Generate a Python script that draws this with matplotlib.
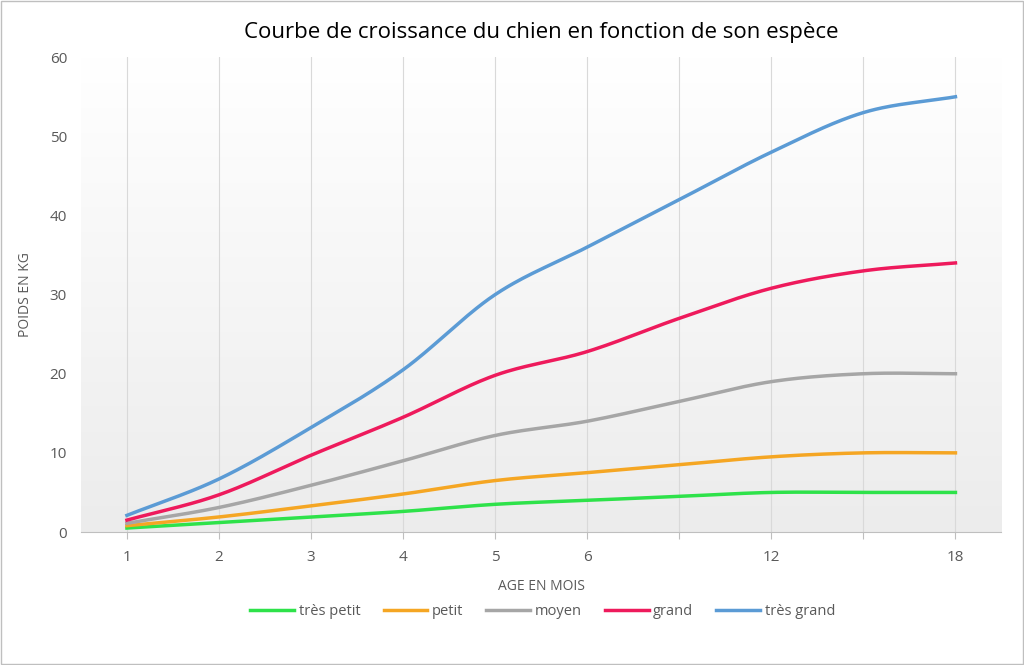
import numpy as np
import matplotlib
matplotlib.use('Agg')
import matplotlib.pyplot as plt

plt.rcParams['font.family'] = ['Open Sans', 'DejaVu Sans']

ages = ['1', '2', '3', '4', '5', '6', '', '12', '', '18']
tres_petit = [0.5, 1.2, 1.9, 2.6, 3.5, 4.0, 4.5, 5.0, 5.0, 5.0]
petit = [0.8, 1.9, 3.3, 4.8, 6.5, 7.5, 8.5, 9.5, 10.0, 10.0]
moyen = [1.1, 3.1, 5.9, 9.0, 12.2, 14.0, 16.5, 19.0, 20.0, 20.0]
grand = [1.5, 4.7, 9.7, 14.5, 19.8, 22.8, 27.0, 30.8, 33.0, 34.0]
tres_grand = [2.1, 6.7, 13.2, 20.5, 30.0, 36.0, 42.0, 48.0, 53.0, 55.0]

series = [('très petit', tres_petit, '#2ee24a'),
          ('petit', petit, '#f5a623'),
          ('moyen', moyen, '#a6a6a6'),
          ('grand', grand, '#ee1a5c'),
          ('très grand', tres_grand, '#5b9bd5')]


def smooth(y, n=30):
    # Catmull-Rom smoothing like Excel's smoothed line
    y = np.asarray(y, float)
    x = np.arange(len(y), dtype=float)
    p = np.concatenate([[2 * y[0] - y[1]], y, [2 * y[-1] - y[-2]]])
    xs, ys = [], []
    for i in range(len(y) - 1):
        p0, p1, p2, p3 = p[i], p[i + 1], p[i + 2], p[i + 3]
        t = np.linspace(0, 1, n, endpoint=False)
        v = 0.5 * ((2 * p1) + (-p0 + p2) * t + (2 * p0 - 5 * p1 + 4 * p2 - p3) * t ** 2
                   + (-p0 + 3 * p1 - 3 * p2 + p3) * t ** 3)
        xs.append(x[i] + t)
        ys.append(v)
    xs.append([x[-1]])
    ys.append([y[-1]])
    return np.concatenate(xs), np.concatenate(ys)


fig = plt.figure(figsize=(10.24, 6.65), dpi=100)
ax = fig.add_axes([0.079, 0.2, 0.899, 0.714])

grad = np.linspace(0, 1, 256).reshape(-1, 1)
cmap = plt.cm.colors.LinearSegmentedColormap.from_list('g', ['#ffffff', '#ececec'])
ax.imshow(grad, extent=[-0.5, 9.5, 0, 60], aspect='auto', cmap=cmap, zorder=0)

for i in range(len(ages)):
    ax.axvline(i, color='#d9d9d9', lw=0.8, zorder=1)

for name, vals, col in series:
    xs, ys = smooth(vals)
    ax.plot(xs, ys, color=col, lw=2.5, label=name, zorder=3)

ax.set_xlim(-0.5, 9.5)
ax.set_ylim(0, 60)
ax.set_xticks(range(len(ages)))
ax.set_xticklabels(ages)
ax.set_yticks(range(0, 61, 10))
for s in ['top', 'right', 'left']:
    ax.spines[s].set_visible(False)
ax.spines['bottom'].set_color('#bfbfbf')
ax.tick_params(axis='both', length=0, labelsize=11, colors='#595959', pad=10)
ax.tick_params(axis='x', length=5, color='#bfbfbf', pad=8)
ax.set_xlabel('AGE EN MOIS', fontsize=10, color='#595959', labelpad=10)
ax.set_ylabel('POIDS EN KG', fontsize=10, color='#595959', labelpad=12)
ax.set_title('Courbe de croissance du chien en fonction de son espèce', fontsize=16, color='#000000', pad=14)

fig.legend(loc='lower center', bbox_to_anchor=(0.53, 0.05), ncol=5, frameon=False, fontsize=10.5,
           handlelength=3.0, handletextpad=0.3, columnspacing=1.6, labelcolor='#595959')

fig.patches.append(plt.Rectangle((0.001, 0.001), 0.998, 0.998, transform=fig.transFigure,
                                 fill=False, edgecolor='#bfbfbf', lw=1))
fig.savefig('out.png', dpi=100)
